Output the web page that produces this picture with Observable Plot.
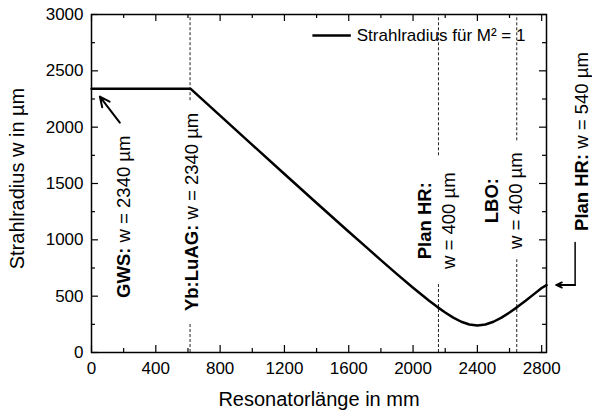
<!DOCTYPE html>
<html><head><meta charset="utf-8">
<script src="https://cdn.jsdelivr.net/npm/d3@7"></script>
<script src="https://cdn.jsdelivr.net/npm/@observablehq/plot@0.6"></script>
<style>
body{margin:0;background:#fff;}
#chart{width:592px;height:412px;}
</style></head><body><div id="chart"></div>
<script>
// Beam radius along resonator
const lengthMm = [0, 617, 800, 1000, 1200, 1400, 1600, 1700, 1800, 1900, 2000, 2100, 2150, 2200, 2250, 2300, 2350, 2400, 2450, 2500, 2550, 2600, 2650, 2700, 2750, 2800, 2830];
const radiusUm = [2340, 2340, 2102, 1843, 1584, 1327, 1072, 946, 820, 696, 575, 459, 405, 355, 310, 273, 249, 240, 249, 273, 310, 355, 405, 459, 516, 572, 598];

const xTicks = [0, 400, 800, 1200, 1600, 2000, 2400, 2800];
const xMinorTicks = [200, 600, 1000, 1400, 1800, 2200, 2600];
const yTicks = [0, 500, 1000, 1500, 2000, 2500, 3000];
const yMinorTicks = [250, 750, 1250, 1750, 2250, 2750];

// Optical element positions (dashed markers), split around their labels
const markerX  = [613, 613, 2158, 2158, 2645, 2645];
const markerY1 = [2235, 0, 1746, 0, 1879, 0];
const markerY2 = [3000, 265, 3000, 619, 3000, 823];

// Annotations
const annotText = ["GWS: w = 2340 µm", "Yb:LuAG: w = 2340 µm", "Plan HR:\nw = 400 µm", "LBO:\nw = 400 µm", "Plan HR: w = 540 µm"];
const annotX = [193, 613, 2141, 2555, 3043];
const annotY = [1205, 1248, 1170, 1348, 1872];

// Arrows
const gwsArrow = [{x1: 176, y1: 2040, x2: 52, y2: 2271}];
const rightElbow = [{x: 3008, y: 977}, {x: 3008, y: 599}];
const rightArrow = [{x1: 3008, y1: 599, x2: 2890, y2: 599}];

// Legend
const legendLabel = "Strahlradius für M² = 1";
const legendLine = [{x1: 1374, x2: 1613, y: 2813}];
const legendTextPos = [{x: 1650, y: 2813}];

const xLabel = "Resonatorlänge in mm";
const yLabel = "Strahlradius w in µm";

const W = 592, H = 412, mL = 91, mR = 46, mT = 14, mB = 60;
const pw = W - mL - mR, ph = H - mT - mB;
const idx = d3.range(lengthMm.length);
const markers = d3.range(markerX.length).map(i => ({x: markerX[i], y1: markerY1[i], y2: markerY2[i]}));
const annots = d3.range(annotText.length).map(i => ({t: annotText[i], x: annotX[i], y: annotY[i]}));

const chart = Plot.plot({
  width: W, height: H,
  marginLeft: mL, marginRight: mR, marginTop: mT, marginBottom: mB,
  style: {fontFamily: "'Liberation Sans', Arial, sans-serif", color: "black", background: "white"},
  x: {domain: [0, 2830], axis: null},
  y: {domain: [0, 3000], axis: null},
  marks: [
    // dashed element markers
    Plot.ruleX(markers, {x: "x", y1: "y1", y2: "y2", stroke: "#222", strokeWidth: 1, strokeDasharray: "3,2"}),
    // inward ticks, major & minor, all four sides
    Plot.tickX(xTicks, {x: d => d, insetTop: ph - 7, strokeWidth: 1.2}),
    Plot.tickX(xTicks, {x: d => d, insetBottom: ph - 7, strokeWidth: 1.2}),
    Plot.tickX(xMinorTicks, {x: d => d, insetTop: ph - 4, strokeWidth: 1.2}),
    Plot.tickX(xMinorTicks, {x: d => d, insetBottom: ph - 4, strokeWidth: 1.2}),
    Plot.tickY(yTicks, {y: d => d, insetRight: pw - 7, strokeWidth: 1.2}),
    Plot.tickY(yTicks, {y: d => d, insetLeft: pw - 7, strokeWidth: 1.2}),
    Plot.tickY(yMinorTicks, {y: d => d, insetRight: pw - 4, strokeWidth: 1.2}),
    Plot.tickY(yMinorTicks, {y: d => d, insetLeft: pw - 4, strokeWidth: 1.2}),
    // tick labels
    Plot.axisX(xTicks, {anchor: "bottom", tickSize: 0, tickPadding: 9, fontSize: 17, label: null, tickFormat: d => String(d)}),
    Plot.axisY(yTicks, {anchor: "left", tickSize: 0, tickPadding: 8, fontSize: 17, label: null, tickFormat: d => String(d)}),
    Plot.frame({stroke: "black", strokeWidth: 1.5}),
    // beam radius curve
    Plot.line(idx, {x: i => lengthMm[i], y: i => radiusUm[i], stroke: "black", strokeWidth: 2.5, strokeLinejoin: "round"}),
    // legend
    Plot.link(legendLine, {x1: "x1", x2: "x2", y1: "y", y2: "y", stroke: "black", strokeWidth: 2.5}),
    Plot.text(legendTextPos, {x: "x", y: "y", text: () => legendLabel, textAnchor: "start", lineAnchor: "middle", fontSize: 17}),
    // annotations
    Plot.text(annots, {x: "x", y: "y", text: "t", rotate: -90, textAnchor: "middle", lineAnchor: "middle", fontSize: 18.5, lineHeight: 1.28}),
    Plot.arrow(gwsArrow, {x1: "x1", y1: "y1", x2: "x2", y2: "y2", stroke: "black", strokeWidth: 2, headLength: 10, headAngle: 50}),
    Plot.line(rightElbow, {x: "x", y: "y", stroke: "black", strokeWidth: 1.5}),
    Plot.arrow(rightArrow, {x1: "x1", y1: "y1", x2: "x2", y2: "y2", stroke: "black", strokeWidth: 1.8, headLength: 10, headAngle: 50}),
    // axis titles
    Plot.text([xLabel], {text: d => d, frameAnchor: "bottom", dy: 53, textAnchor: "middle", lineAnchor: "bottom", fontSize: 20}),
    Plot.text([yLabel], {text: d => d, frameAnchor: "left", dx: -74, dy: -5, rotate: -90, textAnchor: "middle", lineAnchor: "middle", fontSize: 20})
  ]
});

// bold the element names (text up to the last colon)
const annotSet = new Set(annotText.map(s => s.replace(/\n/g, "")));
d3.select(chart).selectAll("text").each(function() {
  if (!annotSet.has(this.textContent)) return;
  const el = d3.select(this);
  const spans = el.selectAll("tspan");
  if (!spans.empty()) {
    spans.each(function() {
      if (this.textContent.trim().endsWith(":")) d3.select(this).attr("font-weight", "bold");
    });
  } else {
    const s = this.textContent;
    const k = s.lastIndexOf(":");
    if (k >= 0) {
      el.text(null);
      el.append("tspan").attr("font-weight", "bold").text(s.slice(0, k + 1));
      el.append("tspan").text(s.slice(k + 1));
    }
  }
});

document.getElementById("chart").appendChild(chart);
</script></body></html>
